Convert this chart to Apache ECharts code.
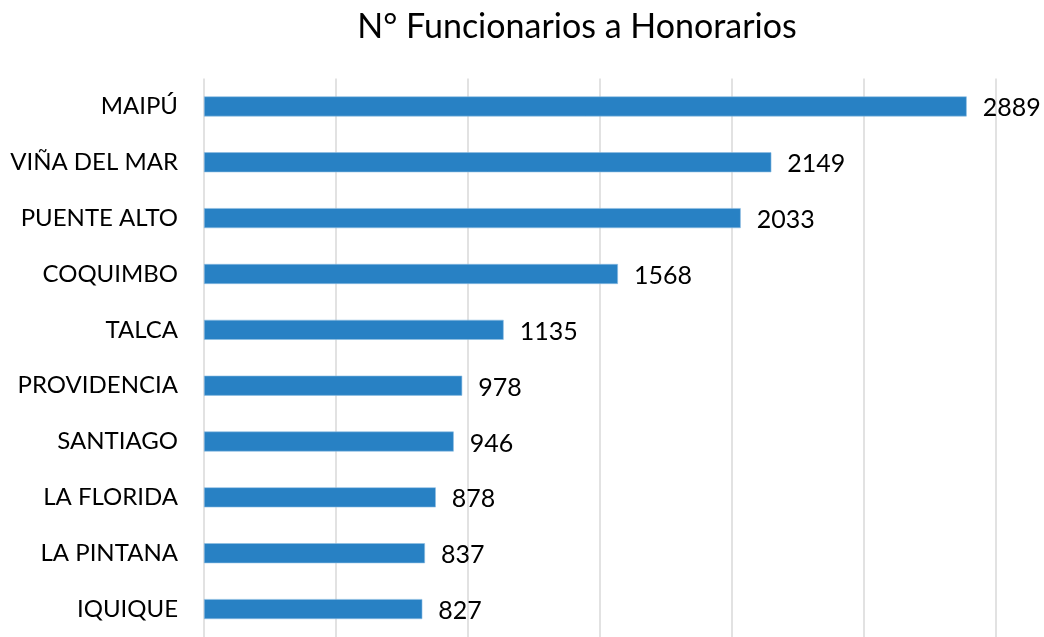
<!DOCTYPE html>
<html><head><meta charset="utf-8">
<script src="https://cdn.jsdelivr.net/npm/echarts@6/dist/echarts.min.js"></script>
<style>html,body{margin:0;padding:0;background:#fff}#c{width:1044px;height:637px}</style>
</head><body><div id="c"></div>
<script>
const categories = ['MAIPÚ','VIÑA DEL MAR','PUENTE ALTO','COQUIMBO','TALCA','PROVIDENCIA','SANTIAGO','LA FLORIDA','LA PINTANA','IQUIQUE'];
const values = [2889,2149,2033,1568,1135,978,946,878,837,827];
const titleText = 'N° Funcionarios a Honorarios';
const FONT = 'Lato';
const chart = echarts.init(document.getElementById('c'));
chart.setOption({
  animation:false,
  title:{text:titleText,left:572,top:5,textAlign:'center',textStyle:{fontFamily:FONT,fontSize:34,fontWeight:'normal',color:'#000'}},
  grid:{left:204,right:48,top:78.5,bottom:-1.5,containLabel:false},
  xAxis:{type:'value',min:0,max:3000,interval:500,axisLabel:{show:false},axisLine:{show:false},axisTick:{show:false},
    splitLine:{show:true,lineStyle:{color:'#d9d9d9',width:1.5}}},
  yAxis:{type:'category',data:categories,inverse:true,axisLine:{show:false},axisTick:{show:false},
    axisLabel:{fontFamily:FONT,fontSize:24,color:'#000',margin:26}},
  series:[{type:'bar',data:values,barWidth:20,
    itemStyle:{color:'#2881C4',borderColor:'#8fbde3',borderWidth:0.6},
    label:{show:true,position:'right',distance:16,fontFamily:FONT,fontSize:25,color:'#000',offset:[0,2]}}]
});
</script></body></html>
